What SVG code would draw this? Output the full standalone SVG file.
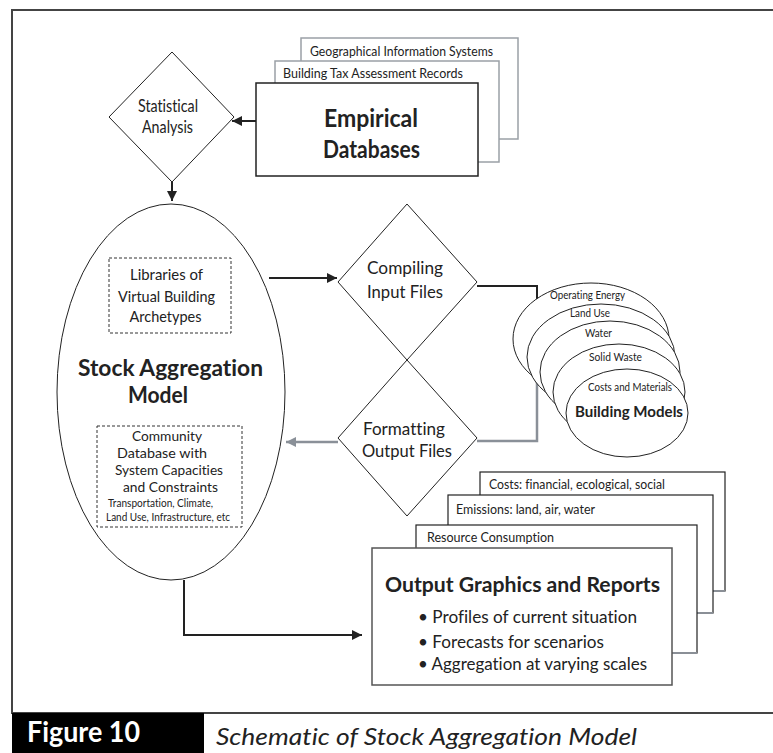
<svg xmlns="http://www.w3.org/2000/svg" width="773" height="753" viewBox="0 0 773 753">
<style>
text{font-family:Lato,"Open Sans","Liberation Sans",sans-serif;fill:#222;font-variant-ligatures:none;font-feature-settings:"liga" 0,"dlig" 0}
.c{text-anchor:middle}
.b{font-weight:bold}
.thin{fill:#fff;stroke:#222;stroke-width:1}
.dash{fill:none;stroke:#333;stroke-width:1;stroke-dasharray:3,2}
.gbox{fill:#fff;stroke:#9aa0a6;stroke-width:1.5}
.obox{fill:#fff;stroke:#222;stroke-width:1.2}
.shadow{stroke:#8a8f96;stroke-width:2;fill:none}
.con{fill:none;stroke:#222;stroke-width:2}
.gcon{fill:none;stroke:#8a9098;stroke-width:2.5}
.frame{stroke:#444;stroke-width:2;fill:none}
</style>
<defs>
<marker id="ah" markerWidth="10" markerHeight="10" refX="10" refY="5" orient="auto" markerUnits="userSpaceOnUse"><path d="M0,0 L10,5 L0,10 z" fill="#222"/></marker>
<marker id="ahg" markerWidth="10" markerHeight="10" refX="10" refY="5" orient="auto" markerUnits="userSpaceOnUse"><path d="M0,0 L10,5 L0,10 z" fill="#8a9098"/></marker>
</defs>
<rect x="0" y="0" width="773" height="753" fill="#fff"/>
<g id="frame">
<path class="frame" d="M773,10 H12 V713 H773"/>
</g>
<g id="connectors">
<path class="con" d="M256,121 H232" marker-end="url(#ah)"/>
<path class="con" d="M172,182 V201" marker-end="url(#ah)"/>
<path class="con" d="M269,278 H337" marker-end="url(#ah)"/>
<path class="con" d="M477,286 H537 V382"/>
<path class="gcon" d="M537,382 V441 H477"/>
<path class="gcon" d="M338,442 H286" marker-end="url(#ahg)"/>
<path class="con" d="M184,580 V635 H362" marker-end="url(#ah)"/>
</g>
<g id="empirical">
<rect class="gbox" x="301" y="38" width="217" height="101"/>
<text x="310" y="56" font-size="14" textLength="183" lengthAdjust="spacingAndGlyphs">Geographical Information Systems</text>
<rect class="gbox" x="275" y="61" width="224" height="101"/>
<text x="283" y="78" font-size="14" textLength="180" lengthAdjust="spacingAndGlyphs">Building Tax Assessment Records</text>
<rect x="256" y="83" width="222" height="93" fill="#fff" stroke="#222" stroke-width="1.5"/>
<text class="c b" x="371" y="127" font-size="24" textLength="94" lengthAdjust="spacingAndGlyphs">Empirical</text>
<text class="c b" x="371.5" y="158" font-size="24" textLength="97" lengthAdjust="spacingAndGlyphs">Databases</text>
</g>
<g id="statistical">
<polygon class="thin" points="172,52 234,117 172,182 109,117"/>
<text class="c" x="168" y="112" font-size="17" textLength="60" lengthAdjust="spacingAndGlyphs">Statistical</text>
<text class="c" x="167.5" y="133" font-size="17" textLength="51" lengthAdjust="spacingAndGlyphs">Analysis</text>
</g>
<g id="stock">
<ellipse class="thin" cx="171" cy="392" rx="114" ry="188"/>
<rect class="dash" x="109" y="258" width="122" height="75"/>
<text class="c" x="166.5" y="280" font-size="16" textLength="73" lengthAdjust="spacingAndGlyphs">Libraries of</text>
<text class="c" x="166.5" y="302" font-size="16" textLength="97" lengthAdjust="spacingAndGlyphs">Virtual Building</text>
<text class="c" x="165.5" y="322" font-size="16" textLength="72" lengthAdjust="spacingAndGlyphs">Archetypes</text>
<text class="c b" x="170.5" y="376" font-size="22" textLength="185" lengthAdjust="spacingAndGlyphs">Stock Aggregation</text>
<text class="c b" x="158" y="403" font-size="22" textLength="60" lengthAdjust="spacingAndGlyphs">Model</text>
<rect class="dash" x="97" y="426" width="145" height="101"/>
<text class="c" x="167" y="441" font-size="14" textLength="70" lengthAdjust="spacingAndGlyphs">Community</text>
<text class="c" x="162" y="458" font-size="14" textLength="90" lengthAdjust="spacingAndGlyphs">Database with</text>
<text class="c" x="169" y="475" font-size="14" textLength="108" lengthAdjust="spacingAndGlyphs">System Capacities</text>
<text class="c" x="170.5" y="492" font-size="14" textLength="95" lengthAdjust="spacingAndGlyphs">and Constraints</text>
<text class="c" x="160.5" y="507" font-size="10.5" textLength="105" lengthAdjust="spacingAndGlyphs">Transportation, Climate,</text>
<text class="c" x="168" y="521" font-size="10.5" textLength="124" lengthAdjust="spacingAndGlyphs">Land Use, Infrastructure, etc</text>
</g>
<g id="compiling">
<polygon class="thin" points="407,204 477,282 407,360 338,282"/>
<text class="c" x="405" y="274" font-size="18" textLength="76" lengthAdjust="spacingAndGlyphs">Compiling</text>
<text class="c" x="405" y="298" font-size="18" textLength="76" lengthAdjust="spacingAndGlyphs">Input Files</text>
</g>
<g id="formatting">
<polygon class="thin" points="407,360 477,438 407,516 338,438"/>
<text class="c" x="404" y="435" font-size="18" textLength="82" lengthAdjust="spacingAndGlyphs">Formatting</text>
<text class="c" x="407" y="457" font-size="18" textLength="90" lengthAdjust="spacingAndGlyphs">Output Files</text>
</g>
<g id="building-models">
<ellipse class="thin" cx="591" cy="339" rx="78" ry="56"/>
<text class="c" x="587.5" y="299" font-size="12" textLength="75" lengthAdjust="spacingAndGlyphs">Operating Energy</text>
<ellipse class="thin" cx="601" cy="357" rx="74" ry="53"/>
<text class="c" x="590" y="317" font-size="12" textLength="40" lengthAdjust="spacingAndGlyphs">Land Use</text>
<ellipse class="thin" cx="610" cy="372" rx="70" ry="51"/>
<text class="c" x="598.5" y="337" font-size="12" textLength="27" lengthAdjust="spacingAndGlyphs">Water</text>
<ellipse class="thin" cx="619" cy="392" rx="66" ry="48"/>
<text class="c" x="615.5" y="361" font-size="12" textLength="53" lengthAdjust="spacingAndGlyphs">Solid Waste</text>
<ellipse class="thin" cx="627" cy="413" rx="61" ry="44"/>
<text class="c" x="630" y="391" font-size="12" textLength="84" lengthAdjust="spacingAndGlyphs">Costs and Materials</text>
<text class="c b" x="629" y="417" font-size="16" textLength="108" lengthAdjust="spacingAndGlyphs">Building Models</text>
</g>
<g id="outputs">
<rect class="obox" x="480" y="472" width="245" height="119"/>
<path class="shadow" d="M700,591 H725"/>
<text x="489" y="489" font-size="14" textLength="176" lengthAdjust="spacingAndGlyphs">Costs: financial, ecological, social</text>
<rect class="obox" x="448" y="495" width="265" height="118"/>
<path class="shadow" d="M690,613 H713"/>
<text x="456" y="514" font-size="14" textLength="139" lengthAdjust="spacingAndGlyphs">Emissions: land, air, water</text>
<rect class="obox" x="416" y="525" width="281" height="128"/>
<path class="shadow" d="M672,653 H697"/>
<text x="427" y="542" font-size="14" textLength="127" lengthAdjust="spacingAndGlyphs">Resource Consumption</text>
<rect x="372" y="548" width="300" height="137" fill="#fff" stroke="#555" stroke-width="1.5"/>
<text class="c b" x="522.5" y="592" font-size="21" textLength="275" lengthAdjust="spacingAndGlyphs">Output Graphics and Reports</text>
<text x="418" y="623" font-size="18" textLength="219" lengthAdjust="spacingAndGlyphs">• Profiles of current situation</text>
<text x="418" y="648" font-size="18" textLength="186" lengthAdjust="spacingAndGlyphs">• Forecasts for scenarios</text>
<text x="418" y="670" font-size="18" textLength="229" lengthAdjust="spacingAndGlyphs">• Aggregation at varying scales</text>
</g>
<g id="caption">
<rect x="12" y="713" width="192" height="40" fill="#000"/>
<text x="27" y="742" font-size="29" font-weight="bold" style="fill:#fff" textLength="113" lengthAdjust="spacingAndGlyphs">Figure 10</text>
<text x="216" y="745" font-size="23" font-style="italic" textLength="421" lengthAdjust="spacingAndGlyphs">Schematic of Stock Aggregation Model</text>
</g>
</svg>
